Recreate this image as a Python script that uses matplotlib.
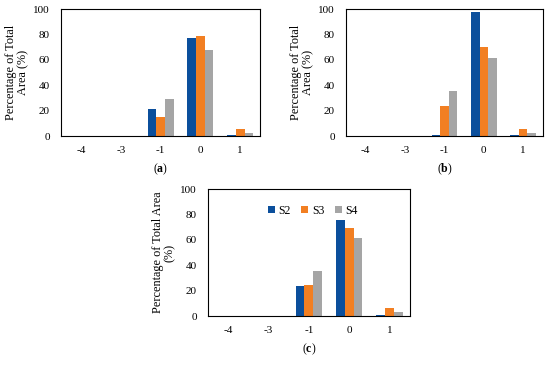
import matplotlib
matplotlib.use("Agg")
import matplotlib.pyplot as plt
import numpy as np

plt.rcParams['font.family'] = ['Liberation Serif', 'DejaVu Serif']
plt.rcParams['mathtext.fontset'] = 'custom'
plt.rcParams['mathtext.rm'] = 'Liberation Serif'
plt.rcParams['mathtext.bf'] = 'Liberation Serif:bold'

categories = ['-4', '-3', '-1', '0', '1']
series = ['S2', 'S3', 'S4']
colors = ['#0B4F9C', '#F27F22', '#A5A5A5']

a_s2 = [0, 0, 21.0, 77.4, 0.8]
a_s3 = [0, 0, 14.7, 79.0, 6.0]
a_s4 = [0, 0, 29.4, 67.7, 2.4]

b_s2 = [0, 0, 1.0, 97.9, 1.0]
b_s3 = [0, 0, 23.7, 70.3, 5.8]
b_s4 = [0, 0, 35.5, 61.8, 2.4]

c_s2 = [0, 0, 24.0, 75.3, 0.8]
c_s3 = [0, 0, 24.2, 69.7, 6.0]
c_s4 = [0, 0, 35.3, 61.3, 3.4]

panels = [
    ([0.111, 0.627, 0.362, 0.348], [a_s2, a_s3, a_s4], 'Percentage of Total\nArea (%)', 'a', False),
    ([0.629, 0.627, 0.358, 0.348], [b_s2, b_s3, b_s4], 'Percentage of Total\nArea (%)', 'b', False),
    ([0.378, 0.134, 0.367, 0.348], [c_s2, c_s3, c_s4], 'Percentage of Total Area\n(%)', 'c', True),
]

fig = plt.figure(figsize=(5.5, 3.65), dpi=100)
x = np.arange(len(categories))
w = 0.217
for rect, data, ylab, tag, show_legend in panels:
    ax = fig.add_axes(rect)
    for i, vals in enumerate(data):
        ax.bar(x + (i - 1) * w, vals, w, color=colors[i], label=series[i])
    ax.set_xlim(-0.5, len(categories) - 0.5)
    ax.set_ylim(0, 100)
    ax.set_yticks([0, 20, 40, 60, 80, 100])
    ax.set_xticks(x)
    ax.set_xticklabels(categories)
    ax.tick_params(axis='x', length=0, labelsize=8, pad=7)
    ax.tick_params(axis='y', length=0, labelsize=8, pad=8)
    ax.set_ylabel(ylab, fontsize=8.8, labelpad=3, linespacing=1.05)
    for s in ax.spines.values():
        s.set_linewidth(0.8)
    if show_legend:
        ax.legend(loc='upper center', ncol=3, frameon=False, fontsize=8.5,
                  handlelength=0.6, handleheight=0.6, handletextpad=0.3,
                  columnspacing=0.9, bbox_to_anchor=(0.52, 0.96))
    ax.text(0.5, -0.2, r'($\mathbf{%s}$)' % tag, transform=ax.transAxes,
            ha='center', va='top', fontsize=8.5)

fig.savefig('out.png', dpi=100)
